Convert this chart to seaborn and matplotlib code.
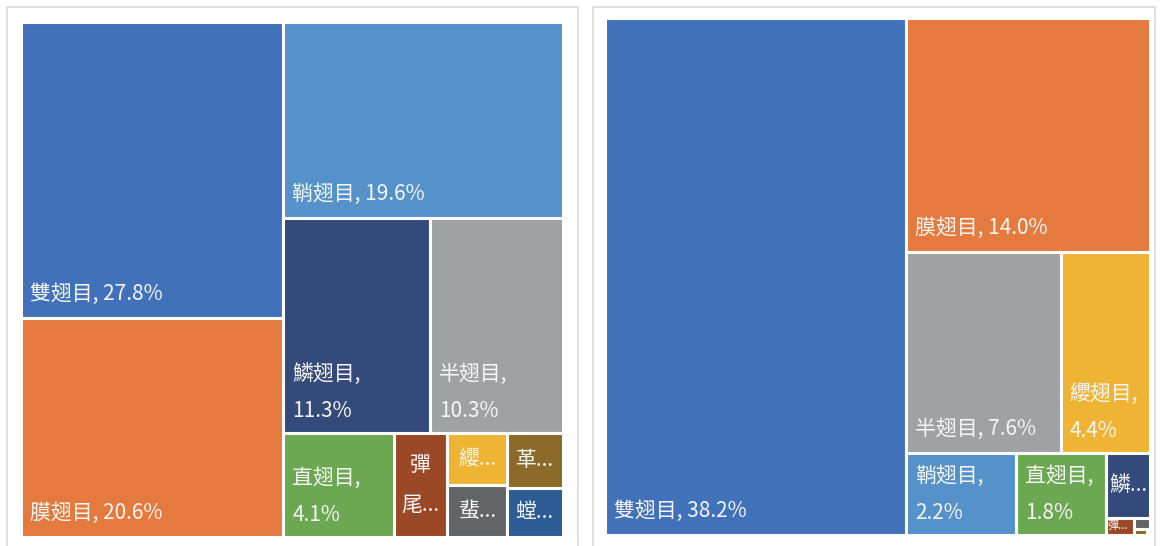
import matplotlib
matplotlib.use("Agg")
import matplotlib.pyplot as plt
import matplotlib.patches as patches
import seaborn as sns

sns.set_theme(style="white")
plt.rcParams['font.family'] = ['Noto Sans CJK TC', 'DejaVu Sans']

# left treemap
left_names = ["雙翅目", "膜翅目", "鞘翅目", "鱗翅目", "半翅目", "直翅目",
              "彈尾目", "纓翅目", "蜚蠊目", "革翅目", "螳螂目"]
left_values = [27.8, 20.6, 19.6, 11.3, 10.3, 4.1, 2.0, 1.1, 1.1, 1.1, 1.0]

# right treemap
right_names = ["雙翅目", "膜翅目", "半翅目", "纓翅目", "鞘翅目", "直翅目",
               "鱗翅目", "彈尾目", "蜚蠊目", "革翅目", "螳螂目"]
right_values = [38.2, 14.0, 7.6, 4.4, 2.2, 1.8, 0.7, 0.12, 0.045, 0.02, 0.005]

# how many tiles go into each strip (squarified-style strips)
left_strips = [2, 1, 2, 1, 1, 2, 1, 1]
right_strips = [1, 1, 2, 1, 1, 1, 1, 1, 1, 1]

colors = {
    "雙翅目": "#4172B9", "膜翅目": "#E57A3E", "鞘翅目": "#5592C9",
    "鱗翅目": "#344A7A", "半翅目": "#A0A1A4", "直翅目": "#6BA851",
    "彈尾目": "#9A4826", "纓翅目": "#F0B434", "蜚蠊目": "#636467",
    "革翅目": "#8C6B2A", "螳螂目": "#2D5C95",
}

W, H = 1162, 546
fig = plt.figure(figsize=(W / 100, H / 100), dpi=100)


def strip_layout(values, strips, x, y, w, h):
    scale = w * h / sum(values)
    rects = []
    i = 0
    for n in strips:
        group = values[i:i + n]
        area = sum(group) * scale
        if w >= h:
            cw = area / h
            yy = y
            for v in group:
                hh = v * scale / cw
                rects.append((x, yy, cw, hh))
                yy += hh
            x += cw
            w -= cw
        else:
            rh = area / w
            xx = x
            for v in group:
                ww = v * scale / rh
                rects.append((xx, y, ww, rh))
                xx += ww
            y += rh
            h -= rh
        i += n
    return rects


def draw_treemap(box, names, values, strips):
    x0, y0, x1, y1 = box
    bw, bh = x1 - x0, y1 - y0
    ax = fig.add_axes([x0 / W, (H - y1) / H, bw / W, bh / H])
    ax.set_xlim(0, bw)
    ax.set_ylim(bh, 0)
    ax.axis("off")
    rects = strip_layout(values, strips, 0, 0, bw, bh)
    for name, v, (x, y, w, h) in zip(names, values, rects):
        r = patches.Rectangle((x, y), w, h, facecolor=colors[name],
                              edgecolor="white", linewidth=2.2)
        ax.add_patch(r)
        kw = dict(color="#F7F7F7", fontsize=15, clip_on=True)
        full = f"{name}, {v:.1f}%"
        if w >= 150:
            ax.text(x + 9, y + h - 24, full, va="center", ha="left", **kw)
        elif w >= 70:
            ax.text(x + 9, y + h - 59, f"{name},", va="center", ha="left", **kw)
            ax.text(x + 9, y + h - 22, f"{v:.1f}%", va="center", ha="left", **kw)
        elif w >= 30:
            cx, cy = x + w / 2, y + h / 2
            if h >= 80:
                ax.text(cx, cy - 20, name[0], va="center", ha="center", **kw)
                ax.text(cx, cy + 20, name[1] + "...", va="center", ha="center", **kw)
            else:
                t = ax.text(cx, cy, name[0] + "...", va="center", ha="center", **kw)
                t.set_clip_path(r)
        elif w >= 20 and h >= 15:
            t = ax.text(x + 2, y + h / 2, name[0] + "...", va="center", ha="left",
                        color="#F7F7F7", fontsize=8)
            t.set_clip_path(r)


# panel frames
for fx0, fx1 in [(7, 578), (593, 1155)]:
    fig.patches.append(patches.Rectangle((fx0 / W, -0.02), (fx1 - fx0) / W,
                                         (H - 7) / H + 0.02,
                                         transform=fig.transFigure,
                                         facecolor="none", edgecolor="#DADADA",
                                         linewidth=1.2))

draw_treemap((21, 22, 563, 537), left_names, left_values, left_strips)
draw_treemap((605, 18, 1150, 535), right_names, right_values, right_strips)

fig.savefig("out.png", dpi=100)
